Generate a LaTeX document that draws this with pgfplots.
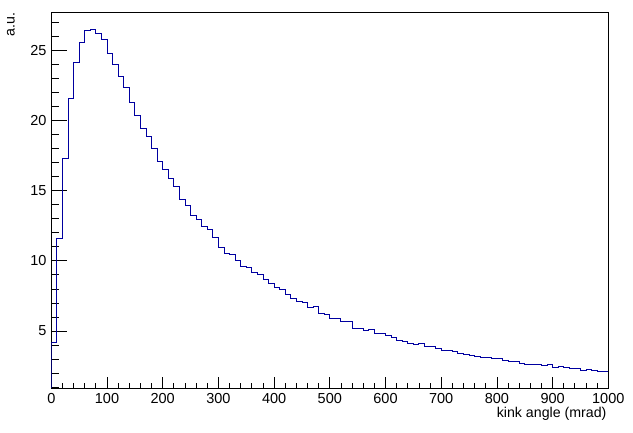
\documentclass[border=0pt]{standalone}
\usepackage{fontspec}
\setmainfont{Liberation Sans}
\usepackage{pgfplots}
\pgfplotsset{compat=1.18}
\definecolor{rootblue}{RGB}{0,0,160}

\begin{document}
\begin{tikzpicture}
    % fixed page: axis box is 557 x 376, page 633 x 433
    \useasboundingbox (-51.3pt,-44.7pt) rectangle (581.7pt,388.3pt);

    % y ticks only (ROOT draws them longer than the x ticks)
    \begin{axis}[
        at={(0,0)}, anchor=south west,
        scale only axis, width=557pt, height=376pt,
        xmin=0, xmax=1000, ymin=0.92, ymax=27.71,
        axis line style={draw=none},
        xtick=\empty,
        ytick={5,10,15,20,25}, minor ytick={1,...,27},
        yticklabels={},
        ytick pos=left, tick align=inside,
        major tick length=16pt, minor tick length=8pt,
        every tick/.style={black, line width=0.8pt},
    ]
    \end{axis}

    \begin{axis}[
        at={(0,0)}, anchor=south west,
        scale only axis, width=557pt, height=376pt,
        xmin=0, xmax=1000, ymin=0.92, ymax=27.71,
        axis line style={line width=0.8pt},
        xtick={0,100,...,1000}, minor xtick={20,40,...,980},
        ytick={5,10,15,20,25}, ytick style={draw=none},
        xtick pos=bottom, ytick pos=left, tick align=inside,
        major tick length=11pt, minor tick length=5.5pt,
        every tick/.style={black, line width=0.8pt},
        /pgf/number format/assume math mode=true,
        /pgf/number format/1000 sep={},
        tick label style={font=\fontsize{14.5}{16}\selectfont},
        xticklabel style={anchor=north, inner sep=0pt, yshift=-5pt},
        yticklabel style={anchor=east, inner sep=0pt, xshift=-4.6pt},
        xlabel={kink angle (mrad)},
        xlabel style={at={(axis description cs:1,0)}, anchor=base east,
            inner sep=0pt, xshift=-1.6pt, yshift=-28.8pt,
            font=\fontsize{14.2}{16}\selectfont},
        ylabel={a.u.},
        ylabel style={at={(axis description cs:-0.0724,1)}, anchor=east,
            inner sep=0pt, font=\fontsize{14.2}{16}\selectfont},
    ]
    \addplot[const plot, color=rootblue, line width=0.9pt] coordinates {
        (0,0.92) (0,4.19) (10,11.59) (20,17.29) (30,21.55) (40,24.14)
        (50,25.57) (60,26.43) (70,26.50) (80,26.21) (90,25.79)
        (100,24.79) (110,24.00) (120,23.14) (130,22.36) (140,21.29)
        (150,20.36) (160,19.43) (170,18.86) (180,18.00) (190,17.07)
        (200,16.50) (210,15.88) (220,15.30) (230,14.37) (240,13.95)
        (250,13.24) (260,12.96) (270,12.46) (280,12.24) (290,11.67)
        (300,10.96) (310,10.53) (320,10.46) (330,10.04) (340,9.61)
        (350,9.54) (360,9.18) (370,9.04) (380,8.68) (390,8.40)
        (400,8.11) (410,7.97) (420,7.61) (430,7.33) (440,7.12)
        (450,7.04) (460,6.69) (470,6.76) (480,6.26) (490,6.19)
        (500,5.90) (510,5.90) (520,5.69) (530,5.69) (540,5.19)
        (550,5.19) (560,5.05) (570,5.12) (580,4.84) (590,4.84)
        (600,4.69) (610,4.55) (620,4.34) (630,4.27) (640,4.12)
        (650,4.05) (660,4.12) (670,3.91) (680,3.91) (690,3.77)
        (700,3.63) (710,3.63) (720,3.55) (730,3.41) (740,3.34)
        (750,3.27) (760,3.20) (770,3.13) (780,3.13) (790,3.06)
        (800,3.06) (810,2.91) (820,2.84) (830,2.84) (840,2.72)
        (850,2.63) (860,2.63) (870,2.63) (880,2.56) (890,2.63)
        (900,2.41) (910,2.49) (920,2.41) (930,2.34) (940,2.34)
        (950,2.20) (960,2.27) (970,2.20) (980,2.13) (990,2.13)
        (1000,2.13)
    };
    \end{axis}
\end{tikzpicture}
\end{document}
